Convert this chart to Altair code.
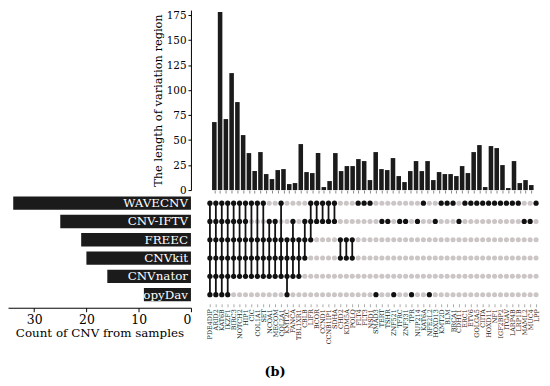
import json
import altair as alt
import pandas as pd

# ---------------- data ----------------
sets = ["WAVECNV", "CNV-IFTV", "FREEC", "CNVkit", "CNVnator", "CopyDav"]
set_codes = ["W", "I", "F", "K", "N", "C"]
set_sizes = [34, 25, 21, 20, 16, 9]

genes = [
    "PDE4DIP", "ARID2", "KAT6B", "IKZF1", "BIRC3", "NOTCH2", "HIP1", "CIC",
    "COL1A1", "SET", "NCOA1", "MECOM", "COL2A1", "KMT2C", "FANCA", "TBL1XR1",
    "CBLB", "LIFR", "BCOR", "CCND1", "CCNB1IP1", "SDHA", "CHD2", "KDM5A",
    "POLQ", "FLT4", "FLT3", "NSD1", "SMAD3", "TERT", "TSHR", "ZNF521",
    "TFRC", "ZNF331", "TPR", "NUP214", "KAT6A", "NFE2L2", "HOXD13", "KMT2D",
    "BLM", "BRCA1", "CDH11", "ERC1", "ETV6", "GOLGA5", "CIITA", "HOXD11",
    "NF1", "IGF2BP2", "ITGAV", "LARP4B", "LRP1B", "MAML2", "MUC4", "LPP",
]

lengths = [
    68, 178, 71, 117, 88, 55, 37, 19, 38, 16,
    11, 20, 21, 6, 7, 46, 18, 17, 37, 3,
    9, 37, 19, 24, 24, 31, 29, 10, 38, 21,
    20, 32, 14, 8, 19, 29, 19, 29, 10, 18,
    16, 16, 14, 24, 17, 38, 45, 3, 44, 42,
    25, 2, 29, 7, 10, 5,
]

# which tools detected each gene (letters from set_codes)
members = [
    "WIFKNC", "WIFKNC", "WIFKNC", "WIFKNC", "WIFKN", "WIFKN", "WIFKN",
    "WFKN", "WFKN", "WFKN", "IFKN", "IFKN", "WFKN", "FKNC", "IFKN",
    "FKN", "IFK", "WIF", "WI", "WI", "WI", "WI", "FK", "FK", "FK",
    "W", "W", "W", "C", "I", "I", "C", "I", "I", "C", "I", "W", "C",
    "I", "W", "W", "W", "I", "W", "W", "W", "W", "W", "W", "W", "W",
    "W", "W", "I", "I", "W",
]

# ---------------- tables ----------------
idx = list(range(1, len(genes) + 1))
bars_df = pd.DataFrame({"i": idx, "gene": genes, "length": lengths})

dot_rows = []
line_rows = []
for i, m in zip(idx, members):
    inside = []
    for s, c in zip(sets, set_codes):
        hit = c in m
        dot_rows.append({"i": i, "set": s, "state": "in" if hit else "out"})
        if hit:
            inside.append(s)
    if len(inside) >= 2:
        line_rows.append({"i": i, "top": inside[0], "bottom": inside[-1]})
dots_df = pd.DataFrame(dot_rows)
lines_df = pd.DataFrame(line_rows)
left_df = pd.DataFrame({"set": sets, "size": set_sizes})

BAR = "#1b1b1b"
DOT_ON = "#111111"
DOT_OFF = "#cbc5c5"
FONT = "DejaVu Serif"

xscale = alt.Scale(domain=[-2.2, 57], nice=False, zero=False)
label_expr = json.dumps(genes) + "[datum.value - 1]"

# ---------------- top: intersection bars ----------------
top = alt.Chart(bars_df).mark_bar(size=4.6, color=BAR).encode(
    x=alt.X("i:Q", scale=xscale,
            axis=alt.Axis(values=idx, labels=False, domain=False, ticks=True,
                          tickSize=3, tickColor="#8a8a8a", grid=False, title=None)),
    y=alt.Y("length:Q", scale=alt.Scale(domain=[0, 180], nice=False),
            axis=alt.Axis(values=[0, 25, 50, 75, 100, 125, 150, 175],
                          title="The length of variation region",
                          titleFontSize=11.5, titleFontWeight="normal",
                          titleColor="black", titlePadding=3,
                          labelFontSize=10.5, labelColor="black",
                          tickSize=3, tickColor="black", domainColor="black",
                          grid=False)),
).properties(width=355, height=182)

# ---------------- matrix ----------------
rowscale = alt.Scale(type="point", padding=0.5, domain=sets)
yrow = alt.Y("set:N", scale=rowscale, axis=None)
xaxis = alt.Axis(values=idx, labelExpr=label_expr, labelAngle=270,
                 labelFontSize=6.5, labelColor="#222222", labelPadding=2,
                 tickSize=3, tickColor="#aaaaaa", domain=False,
                 grid=False, title=None, labelOverlap=False,
                 labelBound=False, labelFlush=False)
xmat = alt.X("i:Q", scale=xscale, axis=xaxis)

off_dots = alt.Chart(dots_df).transform_filter(alt.datum.state == "out").mark_circle(
    size=26, opacity=1, color=DOT_OFF).encode(x=xmat, y=yrow)
conn = alt.Chart(lines_df).mark_rule(strokeWidth=1.8, color=DOT_ON).encode(
    x=xmat, y=alt.Y("top:N", scale=rowscale, axis=None), y2="bottom:N")
on_dots = alt.Chart(dots_df).transform_filter(alt.datum.state == "in").mark_circle(
    size=28, opacity=1, color=DOT_ON).encode(x=xmat, y=yrow)
matrix = alt.layer(off_dots, conn, on_dots).properties(width=355, height=111)

# ---------------- left: set sizes ----------------
yband = alt.Y("set:N", scale=alt.Scale(domain=sets, paddingInner=0.27, paddingOuter=0.135),
              axis=None)
lbars = alt.Chart(left_df).mark_bar(color=BAR).encode(
    x=alt.X("size:Q", scale=alt.Scale(domain=[0, 35], reverse=True, nice=False),
            axis=alt.Axis(values=[0, 10, 20, 30], title="Count of CNV from samples",
                          titleFontSize=12, titleFontWeight="normal", titleColor="black",
                          titlePadding=2, labelFontSize=12.5, labelColor="black",
                          tickSize=4, tickColor="black", domainColor="black",
                          grid=False, offset=4)),
    y=yband,
)
ltext = alt.Chart(left_df).mark_text(align="right", baseline="middle", dx=-3,
                                     color="white", fontSize=12).encode(
    x=alt.datum(0), y=yband, text="set:N")
left = alt.layer(lbars, ltext).properties(width=185, height=111)

# ---------------- empty corner ----------------
corner = alt.Chart(pd.DataFrame({"v": [0]})).mark_point(opacity=0).encode(
    x=alt.X("v:Q", axis=None), y=alt.Y("v:Q", axis=None)
).properties(width=185, height=182)

chart = alt.concat(
    corner, top, left, matrix,
    columns=2, spacing={"row": 4, "column": 0}, bounds="flush", align="each",
).properties(
    padding={"left": 0, "top": 0, "right": 0, "bottom": 4},
    title=alt.TitleParams("(b)", orient="bottom", anchor="middle", fontSize=13,
                          fontWeight="bold", color="black", offset=22, font=FONT),
).configure(font=FONT).configure_view(stroke=None)

chart.save("out.html", embed_options={"renderer": "svg", "actions": False})
